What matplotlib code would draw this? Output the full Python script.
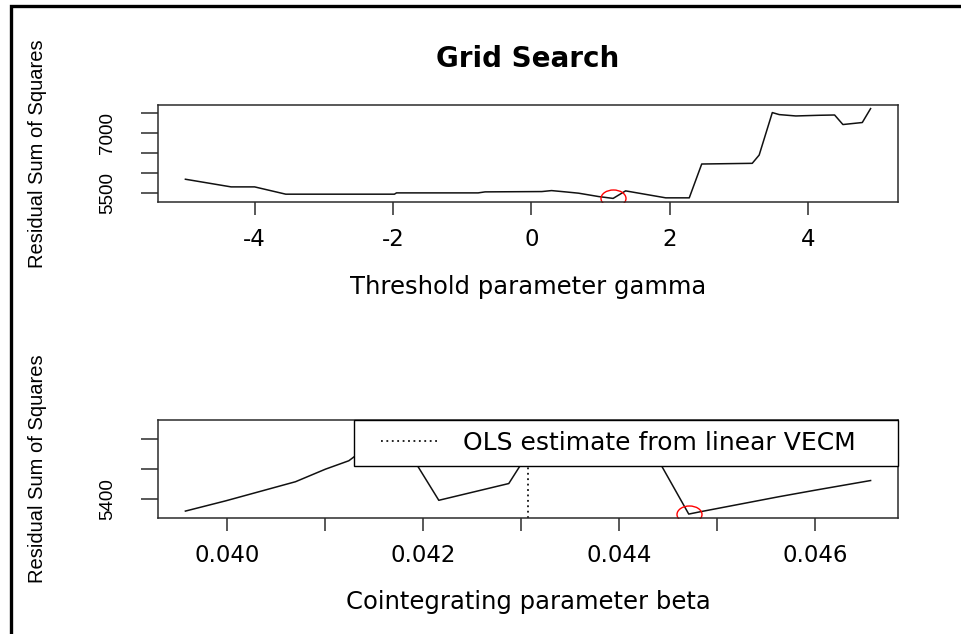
import numpy as np
import matplotlib
matplotlib.use("Agg")
import matplotlib.pyplot as plt
from matplotlib.path import Path
from matplotlib.transforms import Affine2D
from matplotlib.patches import Rectangle
from matplotlib.legend_handler import HandlerLine2D

# grid search over the threshold parameter gamma
gamma = [-5.0, -4.34, -4.0, -3.55, -1.98, -1.95, -0.77, -0.67, 0.15, 0.29, 0.49,
         0.68, 0.97, 1.18, 1.36, 1.94, 2.28, 2.46, 3.19, 3.29, 3.48, 3.58, 3.82,
         4.16, 4.38, 4.5, 4.78, 4.9]
ssr_gamma = [5846, 5656, 5656, 5475, 5475, 5507, 5507, 5532, 5540, 5564, 5532,
             5500, 5416, 5370, 5557, 5384, 5384, 6224, 6241, 6446, 7501, 7451, 7417,
             7434, 7441, 7204, 7254, 7600]
gamma_xticks = [-4, -2, 0, 2, 4]
gamma_xlabels = ["-4", "-2", "0", "2", "4"]
gamma_yticks = [5500, 6000, 6500, 7000, 7500]
gamma_ylabels = ["5500", "", "", "7000", ""]

# grid search over the cointegrating parameter beta
beta = [0.039575, 0.039984, 0.040698, 0.041004, 0.041242, 0.041700, 0.042160,
        0.042568, 0.042874, 0.043220, 0.043700, 0.044190, 0.044710, 0.044831,
        0.045630, 0.046004, 0.046565]
ssr_beta = [5380, 5397, 5429, 5450, 5464, 5520, 5398, 5414, 5426, 5515, 5505,
            5526, 5375, 5379, 5404, 5415, 5431]
beta_ols = 0.04307
beta_xticks = [0.040, 0.041, 0.042, 0.043, 0.044, 0.045, 0.046]
beta_xlabels = ["0.040", "", "0.042", "", "0.044", "", "0.046"]
beta_yticks = [5400, 5450, 5500]
beta_ylabels = ["5400", "", ""]

plt.rcParams["font.family"] = "DejaVu Sans"
plt.rcParams["axes.unicode_minus"] = False

AX_COL = "#2b2b2b"
VFONT = "Liberation Sans"

# slightly squashed circle, like the stretched R symbol
ring = Path.unit_circle().transformed(Affine2D().scale(1.0, 0.68))


def style_axes(ax, xticks, xlabels, yticks, ylabels):
    for s in ax.spines.values():
        s.set_color(AX_COL)
        s.set_linewidth(1.1)
    ax.set_xticks(xticks, labels=xlabels)
    ax.set_yticks(yticks, labels=ylabels, rotation=90, va="center",
                  fontfamily=VFONT)
    ax.tick_params(axis="x", direction="out", length=9, width=1.1,
                   color=AX_COL, pad=10, labelsize=16.5)
    ax.tick_params(axis="y", direction="out", length=12.2, width=1.1,
                   color=AX_COL, pad=17.8, labelsize=13.5)
    ax.margins(0.04)


fig = plt.figure(figsize=(9.62, 6.34), dpi=100)

# top panel
ax1 = fig.add_axes([0.16424, 0.68139, 0.76923, 0.15300])
ax1.plot(gamma, ssr_gamma, color="#111111", lw=1.1)
i = int(np.argmin(ssr_gamma))
ax1.plot(gamma[i], ssr_gamma[i], marker=ring, ms=18, mfc="none", mec="red",
         mew=1.0, ls="none")
style_axes(ax1, gamma_xticks, gamma_xlabels, gamma_yticks, gamma_ylabels)
ax1.set_title("Grid Search", fontsize=20, fontweight="bold", y=1.474,
              va="center", pad=0)
ax1.set_xlabel("Threshold parameter gamma", fontsize=17.5, va="center")
ax1.xaxis.set_label_coords(0.5, -0.876)
ax1.set_ylabel("Residual Sum of Squares", fontsize=14.5, family=VFONT,
               va="center")
ax1.yaxis.set_label_coords(-0.1635, 0.5)

# bottom panel
ax2 = fig.add_axes([0.16424, 0.18344, 0.76923, 0.15410])
ax2.plot(beta, ssr_beta, color="#111111", lw=1.1)
j = int(np.argmin(ssr_beta))
ols = ax2.axvline(beta_ols, color="#111111", lw=1.3, ls=(0, (1, 2)),
                  label="OLS estimate from linear VECM")
ax2.plot(beta[j], ssr_beta[j], marker=ring, ms=18, mfc="none", mec="red",
         mew=1.0, ls="none")
style_axes(ax2, beta_xticks, beta_xlabels, beta_yticks, beta_ylabels)
ax2.set_xlabel("Cointegrating parameter beta", fontsize=17.5, va="center")
ax2.xaxis.set_label_coords(0.5, -0.865)
ax2.set_ylabel("Residual Sum of Squares", fontsize=14.5, family=VFONT,
               va="center")
ax2.yaxis.set_label_coords(-0.1635, 0.5)

leg = ax2.legend(handles=[ols], loc="upper left",
                 bbox_to_anchor=(0.2649, 0.522, 0.7351, 0.478), mode="expand",
                 borderaxespad=0, borderpad=0.44, fontsize=18,
                 handlelength=2.93, handletextpad=0.99, fancybox=False,
                 framealpha=1, edgecolor="black",
                 handler_map={ols: HandlerLine2D(xpad=0.63)})
leg.get_frame().set_linewidth(1.0)
leg.set_zorder(5)

# outer frame (top and left edges only show in the image)
fig.add_artist(Rectangle((10.5 / 962, -0.05), 1.2, 1 - 6 / 634 + 0.05,
                         transform=fig.transFigure, fill=False,
                         edgecolor="black", lw=2.4))

fig.savefig("out.png", dpi=100)
